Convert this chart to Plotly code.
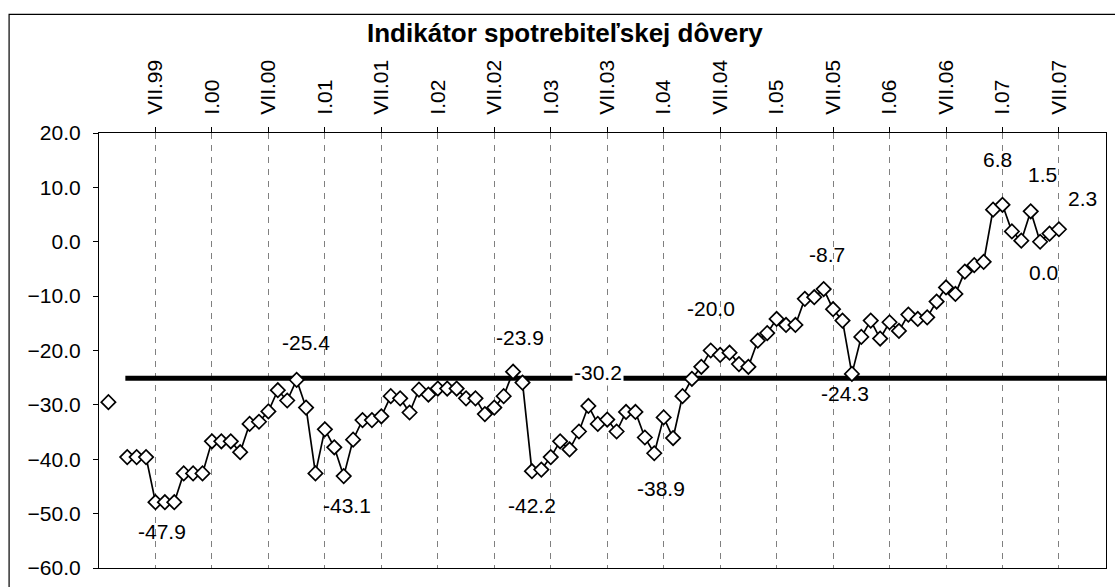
import plotly.graph_objects as go

# month index: 0 = I.99
months = list(range(1, 103))
values = [
    -29.5, None, -39.6, -39.6, -39.6, -47.9, -47.9, -47.9, -42.6, -42.6,
    -42.6, -36.7, -36.7, -36.7, -38.7, -33.5, -33.1, -31.2, -27.3, -29.2,
    -25.4, -30.5, -42.6, -34.5, -37.8, -43.1, -36.4, -32.8, -32.8, -32.1,
    -28.4, -28.8, -31.4, -27.2, -28.1, -27.0, -27.0, -27.0, -28.8, -28.8,
    -31.7, -30.5, -28.4, -23.9, -25.9, -42.2, -41.9, -39.6, -36.7, -38.2,
    -34.9, -30.2, -33.5, -32.7, -34.9, -31.3, -31.3, -36.0, -38.9, -32.3,
    -36.1, -28.4, -25.2, -23.0, -20.0, -20.8, -20.4, -22.5, -23.0, -18.2,
    -16.8, -14.2, -15.3, -15.3, -10.5, -10.2, -8.7, -12.4, -14.5, -24.3,
    -17.5, -14.5, -17.8, -14.8, -16.4, -13.4, -14.2, -13.9, -11.0, -8.4,
    -9.6, -5.5, -4.3, -3.7, 5.9, 6.8, 1.9, 0.2, 5.6, 0.0,
    1.5, 2.3,
]

tick_months = [6, 12, 18, 24, 30, 36, 42, 48, 54, 60, 66, 72, 78, 84, 90, 96, 102]
tick_labels = ["VII.99", "I.00", "VII.00", "I.01", "VII.01", "I.02", "VII.02", "I.03",
               "VII.03", "I.04", "VII.04", "I.05", "VII.05", "I.06", "VII.06", "I.07", "VII.07"]

ref_level = -25.1
ref_start = 2.8
ref_end = 107

labeled_months = [7, 21, 26, 44, 46, 52, 59, 65, 77, 80, 96, 101, 102, 100]
# pixel offsets of the labels (style)
label_shift = {7: (-3, -29), 21: (9, 37), 26: (3, -29), 44: (7, 34), 46: (0, -34),
               52: (10, 33), 59: (7, -35), 65: (0, 42), 77: (3, 35), 80: (-7, -20),
               96: (-5, 45), 101: (-7, 59), 102: (24, 31), 100: (3, -31)}

FONT = "Liberation Sans, Arial, sans-serif"
FS = 21

fig = go.Figure()
fig.add_trace(go.Scatter(
    x=[ref_start, ref_end], y=[ref_level, ref_level], mode="lines",
    line=dict(color="black", width=5), hoverinfo="skip", showlegend=False,
))
fig.add_trace(go.Scatter(
    x=months, y=values, mode="lines+markers", connectgaps=False,
    line=dict(color="black", width=1.7),
    marker=dict(symbol="diamond", size=11, color="white", line=dict(color="black", width=1.7)),
    showlegend=False,
))

L, T, R, B = 99, 133, 8, 14
W, H = 1115, 587
pw, ph = W - L - R, H - T - B

annotations = []
for m in labeled_months:
    v = values[months.index(m)]
    dx, dy = label_shift[m]
    annotations.append(dict(
        x=m, y=v, xref="x", yref="y", text=f"{v:.1f}", showarrow=False,
        xshift=dx, yshift=dy, font=dict(family=FONT, size=FS, color="black"),
        bgcolor="white" if m == 52 else "rgba(0,0,0,0)", borderpad=1,
    ))
annotations.append(dict(
    x=(565 - L) / pw, y=(H - B - 32) / ph, xref="paper", yref="paper",
    xanchor="center", yanchor="middle",
    text="<b>Indikátor spotrebiteľskej dôvery</b>",
    showarrow=False, font=dict(family=FONT, size=26, color="black"),
))

fig.update_layout(
    width=W, height=H, margin=dict(l=L, r=R, t=T, b=B),
    paper_bgcolor="white", plot_bgcolor="white",
    font=dict(family=FONT, size=FS, color="black"),
    annotations=annotations,
    shapes=[dict(type="rect", xref="paper", yref="paper",
                 x0=(9 - L) / pw, x1=(1125 - L) / pw,
                 y0=(H - B - 595) / ph, y1=(H - B - 13) / ph,
                 line=dict(color="black", width=1.2), fillcolor="rgba(0,0,0,0)", layer="below")],
)
fig.update_xaxes(
    range=[0, 107], side="top", tickmode="array", tickvals=tick_months, ticktext=tick_labels,
    tickangle=-90, ticks="outside", ticklen=5, tickcolor="black",
    showgrid=True, gridcolor="#808080", griddash="6px,6px", gridwidth=1,
    showline=True, linecolor="black", linewidth=1.2, mirror=True,
    zeroline=False, ticklabelstandoff=8, tickfont=dict(family=FONT, size=FS),
)
fig.update_yaxes(
    range=[-60, 20], dtick=10, tickformat=".1f", ticks="outside", ticklen=5, tickcolor="black",
    showgrid=False, showline=True, linecolor="black", linewidth=1.2, mirror=True,
    zeroline=False, ticklabelstandoff=8, tickfont=dict(family=FONT, size=FS),
)

fig.write_html("out.html", config={"displayModeBar": False},
               post_script="document.body.style.margin='0px';document.body.style.overflow='hidden';")
